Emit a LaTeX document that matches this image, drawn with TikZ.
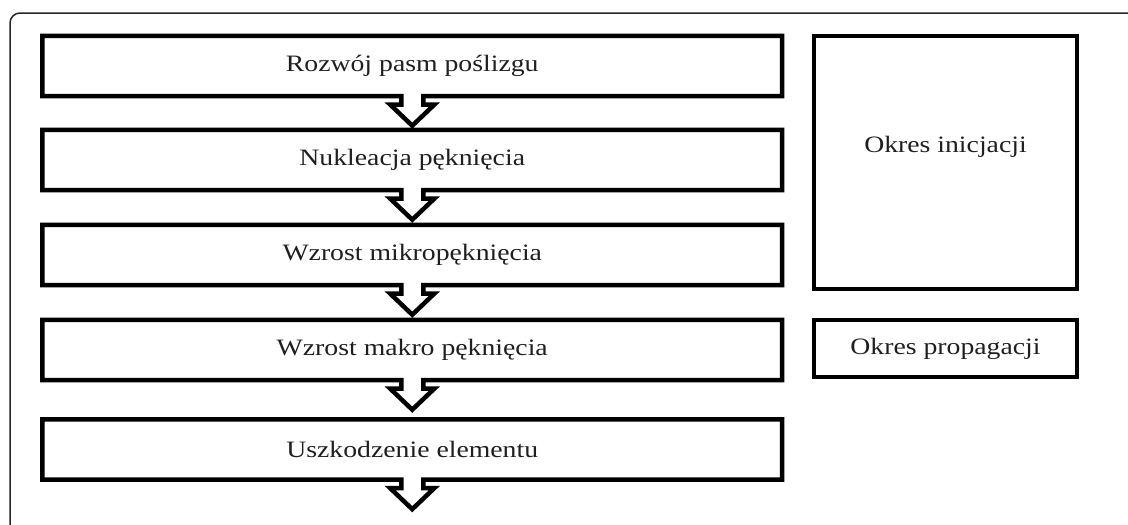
\documentclass[tikz,border=0pt]{standalone}
\usepackage{fontspec}
\setmainfont{Liberation Serif}[FakeStretch=1.18]
\usetikzlibrary{calc}
\begin{document}
\begin{tikzpicture}[x=1pt,y=1pt,
  frameline/.style={line width=1.5pt, draw=black!85, rounded corners=10pt},
  stagebox/.style={minimum width=739.5pt, minimum height=60pt, inner sep=0pt,
    font=\fontsize{23.5}{28}\selectfont, text=black!88},
  periodbox/.style={draw, line width=4.5pt, minimum width=263pt, inner sep=0pt,
    font=\fontsize{23.5}{28}\selectfont, text=black!88},
  outline/.style={line width=4.5pt, line join=miter}
]
\useasboundingbox (0,0) rectangle (1128,-525);
% outer frame
\draw[frameline] (1140,-13) -- (10,-13) -- (10,-540);
% stage boxes
\node[stagebox] (b1) at (412.25,-66)  {Rozwój pasm poślizgu};
\node[stagebox] (b2) at (412.25,-160) {Nukleacja pęknięcia};
\node[stagebox] (b3) at (412.25,-255) {Wzrost mikropęknięcia};
\node[stagebox] (b4) at (412.25,-350) {Wzrost makro pęknięcia};
\node[stagebox] (b5) at (412.25,-449.5) {Uszkodzenie elementu};
% outlines with merged block arrows
\foreach \b in {b1,b2,b3,b4,b5}{
  \draw[outline] (\b.south west) -- (\b.north west) -- (\b.north east) -- (\b.south east)
    -- ($(\b.south)+(11,0)$) -- ++(0,-8.5) -- ++(11,0) -- ++(-22,-21) -- ++(-22,21)
    -- ++(11,0) -- ++(0,8.5) -- cycle;
}
% period boxes
\node[periodbox, minimum height=253pt] (r1) at (945.5,-162.5) {};
\node[font=\fontsize{23.5}{28}\selectfont, text=black!88] (r1t) at (945.5,-147) {Okres inicjacji};
\node[periodbox, minimum height=57pt] (r2) at (945.5,-348.5) {Okres propagacji};
\end{tikzpicture}
\end{document}
